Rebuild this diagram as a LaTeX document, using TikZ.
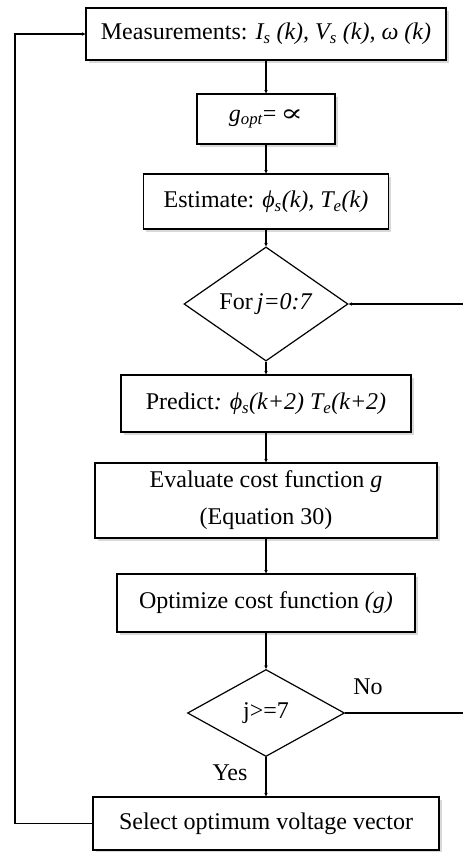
\documentclass[tikz,border=0pt]{standalone}
\usepackage{fontspec}
\usepackage{graphicx}
\setmainfont{Liberation Serif}
\newfontfamily\symbolfont{DejaVu Serif}
\usetikzlibrary{arrows.meta,shapes.geometric,shadows}

\tikzset{
  flowbox/.style={draw, line width=1.2pt, fill=white, inner sep=0pt, align=center,
    drop shadow={shadow xshift=2.5pt, shadow yshift=-2.5pt, fill=black!15, opacity=1}},
  decision/.style={draw, diamond, line width=1.2pt, fill=white, inner sep=0pt, align=center},
  flow/.style={line width=1.2pt, -{Stealth[length=3.5pt,width=3.5pt]}},
  plainline/.style={line width=1.2pt},
  lbl/.style={inner sep=0pt}
}

\begin{document}
\begin{tikzpicture}[x=1pt, y=-1pt, font=\fontsize{24}{37}\selectfont]
  \useasboundingbox (0,0) rectangle (463,852);

  % process boxes and decisions
  \node[flowbox, minimum width=360pt, minimum height=52pt] (meas) at (266,34)
    {Measurements: \textit{I\textsubscript{s} (k), V\textsubscript{s} (k), ω (k)}};
  \node[flowbox, minimum width=138pt, minimum height=50pt] (gopt) at (266,119)
    {\textit{g\textsubscript{opt}}=\,\scalebox{1.4}[1.0]{\symbolfont\itshape ∝}};
  \node[flowbox, minimum width=245pt, minimum height=55pt] (est) at (266,201.5)
    {Estimate: \textit{ϕ\textsubscript{s}(k), T\textsubscript{e}(k)}};
  \node[decision, minimum width=164pt, minimum height=92pt] (loop) at (266,304)
    {For\,\textit{j=0:7}};
  \node[flowbox, minimum width=290pt, minimum height=57pt] (pred) at (266,403.5)
    {Predict\textit{: ϕ\textsubscript{s}(k+2) T\textsubscript{e}(k+2)}};
  \node[flowbox, minimum width=342pt, minimum height=75pt] (eval) at (266,500.5)
    {Evaluate cost function \textit{g}\\(Equation 30)};
  \node[flowbox, minimum width=298pt, minimum height=58pt] (opt) at (266,603)
    {Optimize cost function \textit{(g)}};
  \node[decision, minimum width=157pt, minimum height=87pt] (check) at (266,713)
    {j>=7};
  \node[flowbox, minimum width=346pt, minimum height=53pt] (sel) at (266,823.5)
    {Select optimum voltage vector};

  % branch labels
  \node[lbl] (nolbl) at (368,687) {No};
  \node[lbl] (yeslbl) at (230,773) {Yes};

  % loop-back points
  \coordinate (noend) at (463,713);
  \coordinate (loopin) at (463,304);
  \coordinate (backlow) at (15,823.5);
  \coordinate (backhigh) at (15,34);

  % main flow
  \draw[flow] (meas.south) -- (gopt.north);
  \draw[flow] (gopt.south) -- (est.north);
  \draw[flow] (est.south) -- (loop.north);
  \draw[flow] (loop.south) -- (pred.north);
  \draw[flow] (pred.south) -- (eval.north);
  \draw[flow] (eval.south) -- (opt.north);
  \draw[flow] (opt.south) -- (check.north);
  \draw[flow] (check.south) -- (sel.north);

  % "No" branch back to the loop
  \draw[plainline] (check.east) -- (noend);
  \draw[flow] (loopin) -- (loop.east);

  % return to measurements
  \draw[flow] (sel.west) -- (backlow) -- (backhigh) -- (meas.west);
\end{tikzpicture}
\end{document}
